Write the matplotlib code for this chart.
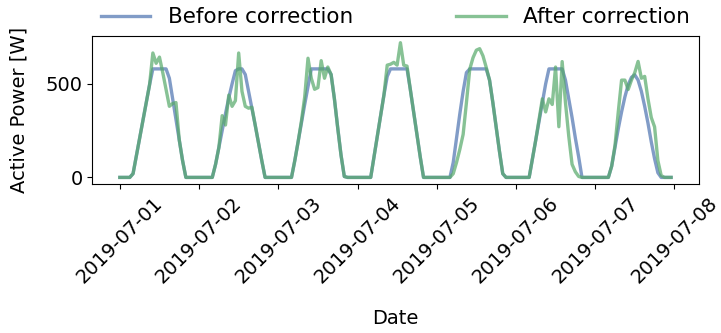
import numpy as np
import pandas as pd
import matplotlib
matplotlib.use("Agg")
import matplotlib.pyplot as plt
import matplotlib.dates as mdates

# hourly active power per day, 2019-07-01 .. 2019-07-07
before_d1 = [0, 0, 0, 0, 20, 115, 210, 305, 400, 495, 580, 580, 580, 580, 580, 530, 420, 310, 200, 90, 0, 0, 0, 0]
before_d2 = [0, 0, 0, 0, 0, 70, 160, 250, 340, 425, 500, 570, 580, 580, 550, 460, 370, 280, 185, 90, 0, 0, 0, 0]
before_d3 = [0, 0, 0, 0, 0, 90, 190, 290, 390, 485, 580, 580, 580, 580, 580, 580, 550, 420, 265, 120, 5, 0, 0, 0]
before_d4 = [0, 0, 0, 0, 0, 110, 220, 330, 440, 540, 580, 580, 580, 580, 580, 580, 470, 350, 230, 110, 0, 0, 0, 0]
before_d5 = [0, 0, 0, 0, 0, 80, 210, 340, 460, 560, 580, 580, 580, 580, 580, 580, 520, 400, 270, 140, 20, 0, 0, 0]
before_d6 = [0, 0, 0, 0, 0, 100, 200, 300, 400, 500, 580, 580, 580, 580, 580, 520, 420, 320, 210, 110, 0, 0, 0, 0]
before_d7 = [0, 0, 0, 0, 0, 60, 160, 260, 350, 430, 495, 535, 548, 520, 460, 380, 290, 190, 100, 25, 0, 0, 0, 0]

after_d1 = [0, 0, 0, 0, 20, 115, 210, 305, 400, 495, 665, 610, 643, 560, 470, 380, 395, 400, 200, 90, 0, 0, 0, 0]
after_d2 = [0, 0, 0, 0, 0, 70, 160, 330, 280, 440, 380, 410, 665, 460, 380, 370, 375, 280, 185, 90, 0, 0, 0, 0]
after_d3 = [0, 0, 0, 0, 0, 90, 190, 300, 430, 637, 530, 471, 480, 624, 530, 590, 550, 420, 265, 120, 5, 0, 0, 0]
after_d4 = [0, 0, 0, 0, 0, 110, 220, 330, 440, 600, 605, 615, 600, 720, 600, 595, 470, 350, 230, 110, 0, 0, 0, 0]
after_d5 = [0, 0, 0, 0, 0, 20, 80, 150, 230, 400, 578, 640, 680, 688, 650, 588, 520, 400, 270, 140, 20, 0, 0, 0]
after_d6 = [0, 0, 0, 0, 0, 100, 200, 310, 420, 350, 420, 390, 590, 271, 619, 400, 220, 70, 30, 5, 0, 0, 0, 0]
after_d7 = [0, 0, 0, 0, 0, 60, 170, 350, 520, 520, 470, 520, 560, 620, 530, 540, 420, 320, 270, 90, 10, 0, 0, 0]

before = np.concatenate([before_d1, before_d2, before_d3, before_d4, before_d5, before_d6, before_d7])
after = np.concatenate([after_d1, after_d2, after_d3, after_d4, after_d5, after_d6, after_d7])
times = pd.date_range("2019-07-01 00:00", periods=len(before), freq="h")

deep_blue = "#4c72b0"
deep_green = "#55a868"

plt.rcParams["font.size"] = 14

fig, ax = plt.subplots(figsize=(7.21, 3.33), dpi=100)
fig.subplots_adjust(left=0.128, right=0.969, top=0.892, bottom=0.447)

ax.plot(times, before, color=deep_blue, alpha=0.7, lw=2.4, label="Before correction")
ax.plot(times, after, color=deep_green, alpha=0.7, lw=2.4, label="After correction")

ax.xaxis.set_major_locator(mdates.DayLocator())
ax.xaxis.set_major_formatter(mdates.DateFormatter("%Y-%m-%d"))
ax.set_yticks([0, 500])
plt.setp(ax.get_xticklabels(), rotation=45)

ax.set_xlabel("Date", labelpad=16)
ax.set_ylabel("Active Power [W]", labelpad=12)

ax.legend(loc="lower left", bbox_to_anchor=(0, 1.0, 1, 0.2), mode="expand",
          ncol=2, frameon=False, handlelength=2.3, borderaxespad=0.0,
          fontsize=15.5)

fig.savefig("out.png", dpi=100)
